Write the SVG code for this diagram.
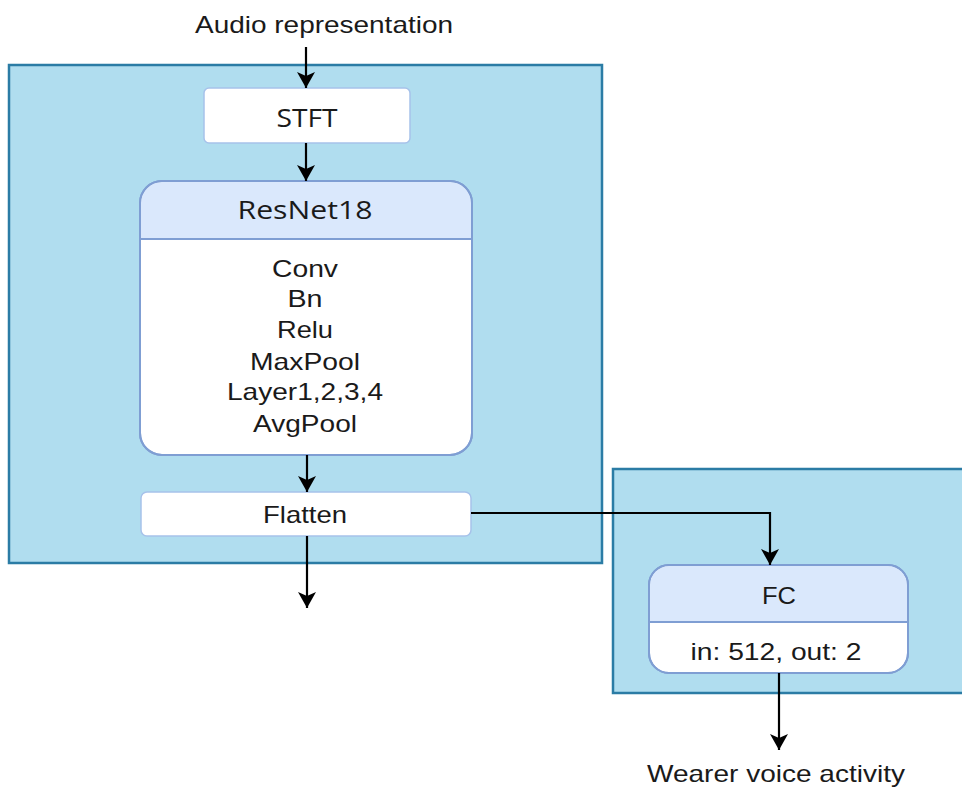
<svg xmlns="http://www.w3.org/2000/svg" width="962" height="796" viewBox="0 0 962 796">
  <defs>
    <marker id="arr" markerWidth="16" markerHeight="18" viewBox="0 0 16 18" refX="16" refY="9" orient="auto" markerUnits="userSpaceOnUse">
      <path d="M0,0 L16,9 L0,18 L4,9 Z" fill="#000"/>
    </marker>
    <style>
      .panel { fill: #b0ddef; stroke: #2b7ca5; stroke-width: 2.5; }
      .box { fill: #ffffff; stroke: #a7c2ea; stroke-width: 1.5; }
      .card { fill: #ffffff; stroke: #7f9ed3; stroke-width: 2; }
      .head { fill: #dae8fc; }
      .div { stroke: #7f9ed3; stroke-width: 2; }
      .conn { fill: none; stroke: #000; stroke-width: 2.2; }
      .sans { font-family: "Liberation Sans", Arial, sans-serif; font-size: 24px; fill: #1a1a1a; text-anchor: middle; }
      .open { font-family: "Open Sans", "DejaVu Sans", sans-serif; font-size: 26px; fill: #1a1a1a; text-anchor: middle; }
    </style>
  </defs>
  <rect width="962" height="796" fill="#ffffff"/>

  <g id="panel-left">
    <rect class="panel" x="9" y="65" width="593" height="498"/>
  </g>
  <g id="panel-right">
    <rect class="panel" x="613" y="469" width="360" height="224"/>
  </g>

  <g id="label-input">
    <text class="sans" x="324" y="33" font-size="25.5" textLength="258" lengthAdjust="spacingAndGlyphs">Audio representation</text>
  </g>

  <g id="node-stft">
    <rect class="box" x="204" y="88" width="206" height="55" rx="5"/>
    <text class="open" x="307" y="127" font-size="27" textLength="61" lengthAdjust="spacingAndGlyphs">STFT</text>
  </g>

  <g id="node-resnet">
    <rect class="card" x="140" y="181" width="332" height="274" rx="22"/>
    <path class="head" d="M141,239 V203 A21,21 0 0 1 162,182 H450 A21,21 0 0 1 471,203 V239 Z"/>
    <line class="div" x1="141" y1="239" x2="471" y2="239"/>
    <rect x="140" y="181" width="332" height="274" rx="22" fill="none" stroke="#7f9ed3" stroke-width="2"/>
    <text class="open" x="305" y="219" font-size="25" textLength="135" lengthAdjust="spacingAndGlyphs">ResNet18</text>
    <text class="sans" x="305" y="277" textLength="66" lengthAdjust="spacingAndGlyphs">Conv</text>
    <text class="sans" x="305" y="307" textLength="35" lengthAdjust="spacingAndGlyphs">Bn</text>
    <text class="sans" x="305" y="338" textLength="56" lengthAdjust="spacingAndGlyphs">Relu</text>
    <text class="sans" x="305" y="370" textLength="110" lengthAdjust="spacingAndGlyphs">MaxPool</text>
    <text class="sans" x="305" y="400" textLength="156" lengthAdjust="spacingAndGlyphs">Layer1,2,3,4</text>
    <text class="sans" x="305" y="432" textLength="104" lengthAdjust="spacingAndGlyphs">AvgPool</text>
  </g>

  <g id="node-flatten">
    <rect class="box" x="141" y="492" width="330" height="44" rx="6" stroke="#8fb0e4"/>
    <text class="sans" x="305" y="523" textLength="84" lengthAdjust="spacingAndGlyphs">Flatten</text>
  </g>

  <g id="node-fc">
    <rect class="card" x="649" y="565" width="259" height="108" rx="20"/>
    <path class="head" d="M650,622 V585 A19,19 0 0 1 669,566 H888 A19,19 0 0 1 907,585 V622 Z"/>
    <line class="div" x1="650" y1="622" x2="907" y2="622"/>
    <rect x="649" y="565" width="259" height="108" rx="20" fill="none" stroke="#7f9ed3" stroke-width="2"/>
    <text class="sans" x="779" y="604" textLength="34" lengthAdjust="spacingAndGlyphs">FC</text>
    <text class="sans" x="776" y="660" textLength="171" lengthAdjust="spacingAndGlyphs">in: 512, out: 2</text>
  </g>

  <g id="label-output">
    <text class="sans" x="776" y="782" font-size="25.5" textLength="258" lengthAdjust="spacingAndGlyphs">Wearer voice activity</text>
  </g>

  <g id="connectors">
    <line class="conn" x1="306" y1="47" x2="306" y2="88" marker-end="url(#arr)"/>
    <line class="conn" x1="306" y1="143" x2="306" y2="181" marker-end="url(#arr)"/>
    <line class="conn" x1="307" y1="455" x2="307" y2="492" marker-end="url(#arr)"/>
    <line class="conn" x1="307" y1="536" x2="307" y2="608" marker-end="url(#arr)"/>
    <polyline class="conn" points="471,513 770,513 770,565" marker-end="url(#arr)"/>
    <line class="conn" x1="779" y1="673" x2="779" y2="750" marker-end="url(#arr)"/>
  </g>
</svg>
